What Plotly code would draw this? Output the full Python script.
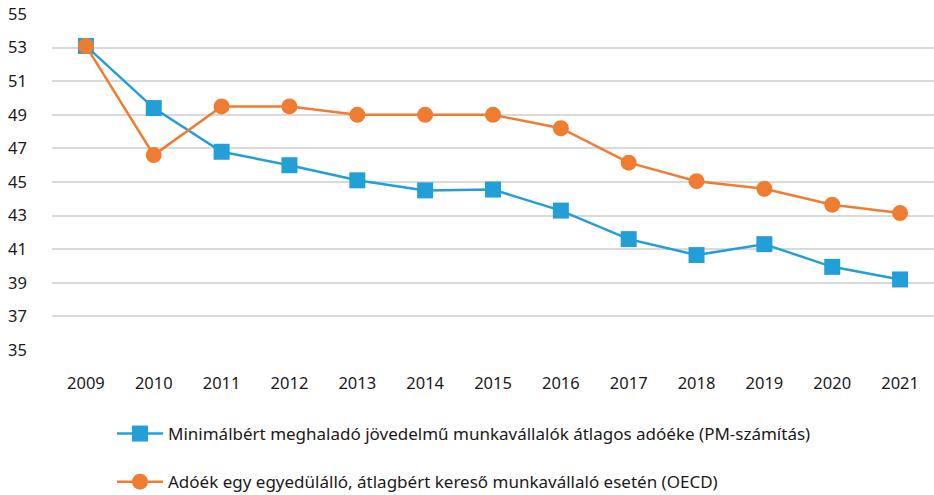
import plotly.graph_objects as go

years = ["2009", "2010", "2011", "2012", "2013", "2014", "2015", "2016", "2017", "2018", "2019", "2020", "2021"]
pm_values = [53.1, 49.4, 46.8, 46.0, 45.1, 44.5, 44.55, 43.3, 41.6, 40.65, 41.3, 39.95, 39.2]
oecd_values = [53.1, 46.6, 49.5, 49.5, 49.0, 49.0, 49.0, 48.2, 46.15, 45.05, 44.6, 43.65, 43.15]
y_ticks = [35, 37, 39, 41, 43, 45, 47, 49, 51, 53, 55]

name_pm = "Minimálbért meghaladó jövedelmű munkavállalók átlagos adóéke (PM-számítás)"
name_oecd = "Adóék egy egyedülálló, átlagbért kereső munkavállaló esetén (OECD)"

BLUE = "#229fd7"
ORANGE = "#ee7d31"
FONT = "Noto Sans"

fig = go.Figure()
fig.add_trace(go.Scatter(
    x=years, y=pm_values, name=name_pm, mode="lines+markers",
    line=dict(color=BLUE, width=2.5),
    marker=dict(symbol="square", size=16, color=BLUE),
    legendgroup="a",
))
fig.add_trace(go.Scatter(
    x=years, y=oecd_values, name=name_oecd, mode="lines+markers",
    line=dict(color=ORANGE, width=2.5),
    marker=dict(symbol="circle", size=16, color=ORANGE),
    legendgroup="b",
))

fig.update_layout(
    width=934, height=495,
    margin=dict(l=52, r=0, t=14, b=145, autoexpand=False),
    plot_bgcolor="white", paper_bgcolor="white",
    font=dict(family=FONT, size=16.5, color="#1a1a1a"),
    xaxis=dict(
        type="category", range=[-0.5, 12.5], showgrid=False, zeroline=False,
        showline=False, ticks="", ticklabelstandoff=21, tickangle=0,
        tickfont=dict(family=FONT, size=16.5, color="#1a1a1a"),
    ),
    yaxis=dict(
        range=[35, 55], tickvals=y_ticks, showgrid=True, gridcolor="#d9d9d9",
        gridwidth=2, zeroline=False, showline=False, ticks="",
        ticklabelstandoff=24, ticklabeloverflow="allow",
        tickfont=dict(family=FONT, size=16.5, color="#1a1a1a"),
    ),
    legend=dict(
        orientation="v", xref="container", yref="container",
        x=112 / 934, y=1 - 416 / 495, xanchor="left", yanchor="top",
        traceorder="grouped", tracegroupgap=23,
        font=dict(family=FONT, size=17, color="#1a1a1a"),
        bgcolor="rgba(0,0,0,0)", itemwidth=46,
    ),
    showlegend=True,
)

fig.write_html("out.html", config={"displayModeBar": False},
               post_script="document.body.style.margin='0';")
